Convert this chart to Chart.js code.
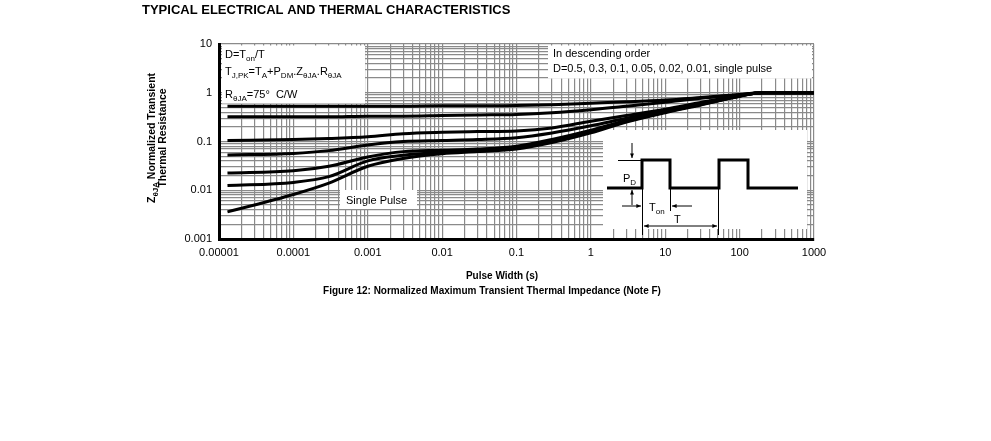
<!DOCTYPE html>
<html>
<head>
<meta charset="utf-8">
<script src="https://cdn.jsdelivr.net/npm/chart.js@4.4.1/dist/chart.umd.min.js"></script>
<style>
  html, body { margin: 0; padding: 0; background: #fff; }
  canvas { display: block; }
</style>
</head>
<body>
<canvas id="chart" width="991" height="441"></canvas>
<script>
// pulse width (s) sample points
const pulseWidth = [1.3e-5, 1e-4, 3e-4, 1e-3, 3e-3, 1e-2, 3e-2, 0.1, 0.3, 1, 3, 10, 30, 100, 200, 1000];

// normalized Z(theta JA), one array per duty cycle
const dutyHalf   = [0.53, 0.53, 0.53, 0.53, 0.53, 0.54, 0.54, 0.55, 0.57, 0.61, 0.65, 0.71, 0.80, 0.92, 1.0, 1.0];
const duty03     = [0.32, 0.32, 0.32, 0.33, 0.33, 0.34, 0.35, 0.36, 0.39, 0.45, 0.53, 0.64, 0.77, 0.91, 1.0, 1.0];
const duty01     = [0.105, 0.11, 0.115, 0.125, 0.145, 0.155, 0.16, 0.165, 0.19, 0.26, 0.34, 0.46, 0.63, 0.88, 1.0, 1.0];
const duty005    = [0.053, 0.057, 0.065, 0.085, 0.10, 0.105, 0.11, 0.12, 0.15, 0.21, 0.30, 0.43, 0.60, 0.87, 1.0, 1.0];
const duty002    = [0.0225, 0.025, 0.031, 0.048, 0.062, 0.066, 0.07, 0.08, 0.11, 0.17, 0.27, 0.41, 0.58, 0.86, 1.0, 1.0];
const duty001    = [0.0125, 0.0145, 0.019, 0.04, 0.052, 0.06, 0.065, 0.075, 0.10, 0.16, 0.26, 0.40, 0.57, 0.85, 1.0, 1.0];
const singlePulse = [0.0036, 0.0082, 0.014, 0.031, 0.045, 0.056, 0.062, 0.07, 0.095, 0.15, 0.25, 0.39, 0.56, 0.85, 1.0, 1.0];

const seriesNames = ['D=0.5', 'D=0.3', 'D=0.1', 'D=0.05', 'D=0.02', 'D=0.01', 'Single Pulse'];
const seriesValues = [dutyHalf, duty03, duty01, duty005, duty002, duty001, singlePulse];

const xTickLabels = ['0.00001', '0.0001', '0.001', '0.01', '0.1', '1', '10', '100', '1000'];
const yTickLabels = ['0.001', '0.01', '0.1', '1', '10'];

const FONT = '"Liberation Sans", Arial, sans-serif';
const GRID = '#8a8a8a';

function isDecade(v) {
  const l = Math.log10(v);
  return Math.abs(l - Math.round(l)) < 1e-6;
}

function decadeTicks(scale) {
  const lo = Math.round(Math.log10(scale.min));
  const hi = Math.round(Math.log10(scale.max));
  const ticks = [];
  for (let e = lo; e <= hi; e++) {
    for (let m = 1; m <= 9; m++) {
      if (e === hi && m > 1) break;
      ticks.push({ value: m * Math.pow(10, e) });
    }
  }
  scale.ticks = ticks;
}

function labelFor(labels, min) {
  return value => {
    if (!isDecade(value)) return '';
    return labels[Math.round(Math.log10(value)) - Math.round(Math.log10(min))];
  };
}

// text with subscripts: parts = [[text, isSub], ...]
function richText(ctx, parts, x, y, size, bold, align) {
  const font = s => (bold ? 'bold ' : '') + s + 'px ' + FONT;
  const subSize = Math.round(size * 0.72);
  let w = 0;
  parts.forEach(([t, sub]) => {
    ctx.font = font(sub ? subSize : size);
    w += ctx.measureText(t).width;
  });
  let cx = align === 'center' ? x - w / 2 : x;
  ctx.textAlign = 'left';
  ctx.textBaseline = 'alphabetic';
  parts.forEach(([t, sub]) => {
    ctx.font = font(sub ? subSize : size);
    ctx.fillText(t, cx, y + (sub ? size * 0.3 : 0));
    cx += ctx.measureText(t).width;
  });
}

function arrow(ctx, x1, y1, x2, y2) {
  const ang = Math.atan2(y2 - y1, x2 - x1);
  ctx.beginPath();
  ctx.moveTo(x1, y1);
  ctx.lineTo(x2, y2);
  ctx.stroke();
  ctx.beginPath();
  ctx.moveTo(x2, y2);
  ctx.lineTo(x2 - 5 * Math.cos(ang - 0.4), y2 - 5 * Math.sin(ang - 0.4));
  ctx.lineTo(x2 - 5 * Math.cos(ang + 0.4), y2 - 5 * Math.sin(ang + 0.4));
  ctx.closePath();
  ctx.fill();
}

const annotationBoxes = {
  id: 'annotationBoxes',
  beforeDatasetsDraw(chart) {
    const { ctx, chartArea: a } = chart;
    ctx.save();
    ctx.fillStyle = '#fff';
    ctx.fillRect(a.left + 3, a.top + 1.5, 143, 58);          // formula box
    ctx.fillRect(a.left + 329, a.top + 1.5, 264, 33);        // order note
    ctx.fillRect(a.left + 121, a.top + 146, 77, 19);         // single pulse tag
    ctx.fillRect(a.left + 384, a.top + 86, 204, 99);         // pulse inset
    ctx.restore();
  }
};

const annotationText = {
  id: 'annotationText',
  afterDraw(chart) {
    const { ctx, chartArea: a } = chart;
    const L = a.left, T = a.top;
    ctx.save();
    ctx.fillStyle = '#000';

    ctx.font = 'bold 13px ' + FONT;
    ctx.textAlign = 'left';
    ctx.fillText('TYPICAL ELECTRICAL AND THERMAL CHARACTERISTICS', 142, 14);

    richText(ctx, [['D=T', 0], ['on', 1], ['/T', 0]], L + 6, T + 14, 11, false);
    richText(ctx, [['T', 0], ['J,PK', 1], ['=T', 0], ['A', 1], ['+P', 0], ['DM', 1], ['.Z', 0], ['\u03b8JA', 1], ['.R', 0], ['\u03b8JA', 1]], L + 6, T + 31, 11, false);
    richText(ctx, [['R', 0], ['\u03b8JA', 1], ['=75\u00b0  C/W', 0]], L + 6, T + 54, 11, false);

    richText(ctx, [['In descending order', 0]], L + 334, T + 13, 11, false);
    richText(ctx, [['D=0.5, 0.3, 0.1, 0.05, 0.02, 0.01, single pulse', 0]], L + 334, T + 28, 11, false);

    richText(ctx, [['Single Pulse', 0]], L + 127, T + 160, 11, false);

    // pulse train inset
    ctx.strokeStyle = '#000';
    ctx.lineWidth = 3;
    ctx.lineJoin = 'miter';
    ctx.beginPath();
    const base = T + 144, top = T + 116;
    [[388, base], [423, base], [423, top], [451, top], [451, base], [500, base],
     [500, top], [529, top], [529, base], [579, base]].forEach(([px, py], i) => {
      if (i === 0) ctx.moveTo(L + px, py); else ctx.lineTo(L + px, py);
    });
    ctx.stroke();

    ctx.lineWidth = 1;
    ctx.beginPath();
    ctx.moveTo(L + 399, top + 0.5); ctx.lineTo(L + 423, top + 0.5);
    ctx.moveTo(L + 423.5, base); ctx.lineTo(L + 423.5, T + 191);
    ctx.moveTo(L + 451.5, base); ctx.lineTo(L + 451.5, T + 167);
    ctx.moveTo(L + 499.5, base); ctx.lineTo(L + 499.5, T + 191);
    ctx.stroke();
    arrow(ctx, L + 413, T + 99, L + 413, T + 114);
    arrow(ctx, L + 413, T + 161, L + 413, T + 146);
    arrow(ctx, L + 403, T + 162, L + 422, T + 162);
    arrow(ctx, L + 473, T + 162, L + 453, T + 162);
    arrow(ctx, L + 462, T + 182, L + 425, T + 182);
    arrow(ctx, L + 462, T + 182, L + 498, T + 182);

    richText(ctx, [['P', 0], ['D', 1]], L + 404, T + 138, 11, false);
    richText(ctx, [['T', 0], ['on', 1]], L + 430, T + 167, 11, false);
    richText(ctx, [['T', 0]], L + 455, T + 179, 11, false);

    // axis titles and caption
    richText(ctx, [['Pulse Width (s)', 0]], 502, 279, 10, true, 'center');
    richText(ctx, [['Figure 12: Normalized Maximum Transient Thermal Impedance (Note F)', 0]], 492, 294, 10, true, 'center');

    ctx.save();
    ctx.translate(155, 138);
    ctx.rotate(-Math.PI / 2);
    richText(ctx, [['Z', 0], ['\u03b8JA', 1], [' Normalized Transient', 0]], 0, 0, 10.5, true, 'center');
    richText(ctx, [['Thermal Resistance', 0]], 0, 10.5, 10.5, true, 'center');
    ctx.restore();

    ctx.restore();
  }
};

Chart.defaults.font.family = FONT;
Chart.defaults.color = '#000';

new Chart(document.getElementById('chart'), {
  type: 'line',
  data: {
    datasets: seriesNames.map((name, i) => ({
      label: name,
      data: pulseWidth.map((x, j) => ({ x, y: seriesValues[i][j] })),
      borderColor: '#000',
      borderWidth: 3,
      pointRadius: 0,
      fill: false,
      cubicInterpolationMode: 'monotone'
    }))
  },
  options: {
    responsive: false,
    animation: false,
    layout: { padding: { left: 0, right: 177, top: 44, bottom: 0 } },
    plugins: { legend: { display: false }, tooltip: { enabled: false } },
    scales: {
      x: {
        type: 'logarithmic',
        min: 1e-5,
        max: 1000,
        afterBuildTicks: decadeTicks,
        afterFit: s => { s.height = 202; },
        grid: { color: GRID, lineWidth: 1.2, drawTicks: false },
        border: { color: '#000', width: 3 },
        ticks: { autoSkip: false, maxRotation: 0, padding: 7, font: { size: 11 }, callback: labelFor(xTickLabels, 1e-5) }
      },
      y: {
        type: 'logarithmic',
        min: 0.001,
        max: 10,
        afterBuildTicks: decadeTicks,
        afterFit: s => { s.width = 219; },
        grid: { color: GRID, lineWidth: 1.2, drawTicks: false },
        border: { color: '#000', width: 3 },
        ticks: { autoSkip: false, padding: 7, font: { size: 11 }, callback: labelFor(yTickLabels, 0.001) }
      }
    }
  },
  plugins: [annotationBoxes, annotationText]
});
</script>
</body>
</html>
